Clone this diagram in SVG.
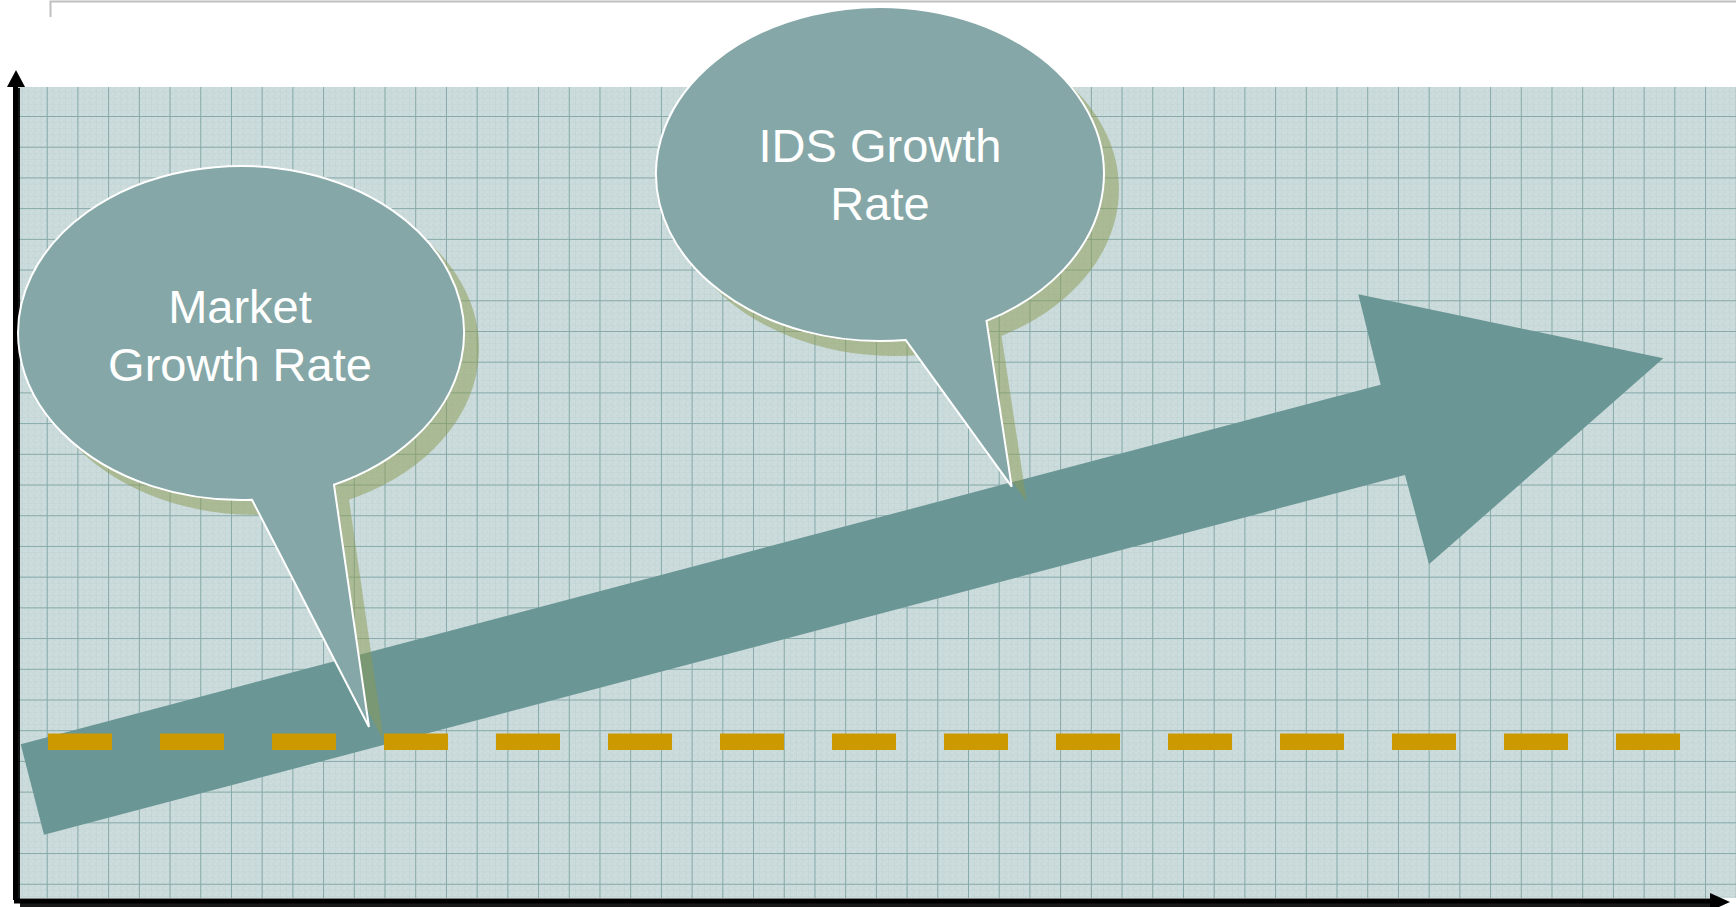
<svg xmlns="http://www.w3.org/2000/svg" width="1736" height="907" viewBox="0 0 1736 907">
  <defs>
    <pattern id="minor" patternUnits="userSpaceOnUse" x="16" y="85.3" width="6.142" height="6.142">
      <path d="M0 0 H6.142 M0 0 V6.142" stroke="#b3caca" stroke-width="0.6" fill="none"/>
      <rect x="2" y="2" width="1" height="1" fill="#bcd0d0"/>
      <rect x="4.5" y="4" width="1" height="1" fill="#bcd0d0"/>
    </pattern>
    <pattern id="major" patternUnits="userSpaceOnUse" x="16" y="85.3" width="30.71" height="30.71">
      <path d="M0 0.5 H30.71 M0.5 0 V30.71" stroke="#86a9a9" stroke-width="1" fill="none"/>
    </pattern>
    <style>
      .shadow { fill: #8a9a50; fill-opacity: 0.5; }
      .bubble { fill: #86a7a7; stroke: #ffffff; stroke-width: 2; }
      .label { font-family: "Liberation Sans", Arial, sans-serif; font-size: 47px; fill: #ffffff; text-anchor: middle; }
      .dash { fill: #cc9900; }
    </style>
  </defs>

  <g id="frame">
    <path d="M50.5 17 V1.5 H1736" fill="none" stroke="#c0c0c0" stroke-width="2"/>
  </g>

  <g id="grid">
    <rect x="18" y="87" width="1718" height="811" fill="#cddcdc"/>
    <rect x="18" y="87" width="1718" height="811" fill="url(#minor)"/>
    <rect x="18" y="87" width="1718" height="811" fill="url(#major)"/>
  </g>

  <g id="axes">
    <path d="M18 900 V88" stroke="#000" stroke-width="4" fill="none" opacity="0.9"/>
    <path d="M20 905 H1712" stroke="#000" stroke-width="4" fill="none" opacity="0.9"/>
    <path d="M15.5 900 V86" stroke="#000" stroke-width="5" fill="none"/>
    <path d="M7 87 L16 70 L25 87 Z" fill="#000"/>
    <path d="M14 901 H1712" stroke="#000" stroke-width="5" fill="none"/>
    <path d="M1710 893 L1730 902 L1710 911 Z" fill="#000"/>
  </g>

  <g id="growth-arrow">
    <polygon points="20.7,744.3 1380.7,384.7 1358.3,294.3 1663.3,358.3 1429,564.3 1405,475 44,834.7" fill="#6b9696"/>
  </g>

  <g id="market-bubble">
    <path class="shadow" d="M267 514.8 L384 742 L349 499.8 A223 167 0 1 0 267 514.8 Z"/>
    <path class="bubble" d="M252 499.8 L369 727 L334 484.8 A223 167 0 1 0 252 499.8 Z"/>
    <text class="label" x="240" y="323">Market</text>
    <text class="label" x="240" y="381">Growth Rate</text>
  </g>

  <g id="ids-bubble">
    <path class="shadow" d="M920.6 354.9 L1026.7 501.7 L1001.5 335.9 A224 167 0 1 0 920.6 354.9 Z"/>
    <path class="bubble" d="M905.6 339.9 L1011.7 486.7 L986.5 320.9 A224 167 0 1 0 905.6 339.9 Z"/>
    <text class="label" x="880" y="162">IDS Growth</text>
    <text class="label" x="880" y="220">Rate</text>
  </g>

  <g id="baseline-dashes">
    <rect class="dash" x="48" y="733.5" width="64" height="16.5"/>
    <rect class="dash" x="160" y="733.5" width="64" height="16.5"/>
    <rect class="dash" x="272" y="733.5" width="64" height="16.5"/>
    <rect class="dash" x="384" y="733.5" width="64" height="16.5"/>
    <rect class="dash" x="496" y="733.5" width="64" height="16.5"/>
    <rect class="dash" x="608" y="733.5" width="64" height="16.5"/>
    <rect class="dash" x="720" y="733.5" width="64" height="16.5"/>
    <rect class="dash" x="832" y="733.5" width="64" height="16.5"/>
    <rect class="dash" x="944" y="733.5" width="64" height="16.5"/>
    <rect class="dash" x="1056" y="733.5" width="64" height="16.5"/>
    <rect class="dash" x="1168" y="733.5" width="64" height="16.5"/>
    <rect class="dash" x="1280" y="733.5" width="64" height="16.5"/>
    <rect class="dash" x="1392" y="733.5" width="64" height="16.5"/>
    <rect class="dash" x="1504" y="733.5" width="64" height="16.5"/>
    <rect class="dash" x="1616" y="733.5" width="64" height="16.5"/>
  </g>
</svg>
